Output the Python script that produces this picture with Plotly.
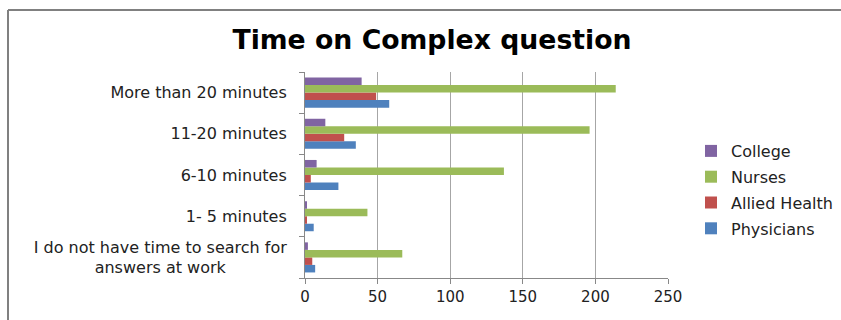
import plotly.graph_objects as go

categories = [
    "I do not have time to search for<br>answers at work" + "\u00a0" * 12,
    "1- 5 minutes",
    "6-10 minutes",
    "11-20 minutes",
    "More than 20 minutes",
]
physicians = [7, 6, 23, 35, 58]
allied_health = [5, 1, 4, 27, 49]
nurses = [67, 43, 137, 196, 214]
college = [2, 1, 8, 14, 39]
x_ticks = [0, 50, 100, 150, 200, 250]

series = [
    ("Physicians", physicians, "#4F81BD", 4),
    ("Allied Health", allied_health, "#C0504D", 3),
    ("Nurses", nurses, "#9BBB59", 2),
    ("College", college, "#8064A2", 1),
]

FONT = "DejaVu Sans"
fig = go.Figure()
for name, vals, color, rank in series:
    fig.add_trace(go.Bar(
        y=categories, x=vals, name=name, orientation="h",
        marker=dict(color=color, line=dict(width=0)),
        legendgroup=name, legendrank=rank,
    ))

W, H = 841, 320
L, R, T, B = 305, 841 - 668, 72, 42
pw, ph = W - L - R, H - T - B

def px(x):
    return (x - L) / pw

def py(y):
    return (H - B - y) / ph

fig.update_layout(
    width=W, height=H,
    margin=dict(l=L, r=R, t=T, b=B, autoexpand=False),
    paper_bgcolor="white", plot_bgcolor="white",
    barmode="group", bargap=0.27, bargroupgap=0,
    title=dict(text="<b>Time on Complex question</b>", x=px(432), xref="paper",
               xanchor="center", y=1 - 40 / H, yanchor="middle",
               font=dict(family=FONT, size=26.7, color="black")),
    legend=dict(x=px(691), y=py(134), xanchor="left", yanchor="top",
                traceorder="grouped", tracegroupgap=2,
                font=dict(family=FONT, size=16, color="#222222"),
                bgcolor="rgba(0,0,0,0)"),
    font=dict(family=FONT, size=15, color="#222222"),
    xaxis=dict(range=[0, 250], tickvals=x_ticks, showgrid=True,
               gridcolor="#A6A6A6", gridwidth=1, showline=True,
               linecolor="#888888", ticks="outside", ticklen=5,
               tickcolor="#888888", zeroline=False, fixedrange=True,
               automargin=False,
               tickfont=dict(family=FONT, size=15, color="#222222")),
    yaxis=dict(showline=True, linecolor="#888888", ticks="outside",
               ticklen=5, tickcolor="#888888", tickson="boundaries",
               showgrid=False, ticklabelstandoff=14, automargin=False,
               tickfont=dict(family=FONT, size=16, color="#222222")),
    shapes=[
        dict(type="line", xref="paper", yref="paper", x0=px(8), x1=px(8),
             y0=py(322), y1=py(10), line=dict(color="#808080", width=2)),
        dict(type="line", xref="paper", yref="paper", x0=px(8), x1=px(845),
             y0=py(10), y1=py(10), line=dict(color="#808080", width=2)),
    ],
)

fig.write_html("out.html")
